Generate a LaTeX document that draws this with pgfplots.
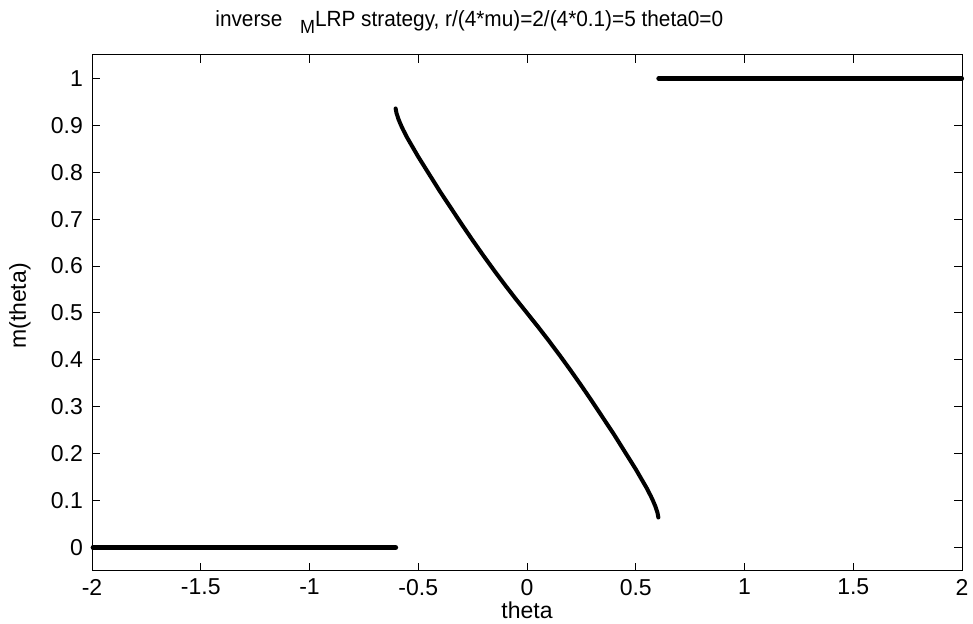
\documentclass[border=0pt]{standalone}
\usepackage{fontspec}
\setmainfont{Liberation Sans}
\usepackage{pgfplots}
\pgfplotsset{compat=1.18}
\begin{document}
\begin{tikzpicture}
\useasboundingbox (-46pt,-26.5pt) rectangle (440.5pt,285.5pt);
\begin{axis}[
  scale only axis, width=435pt, height=258pt,
  xmin=-2, xmax=2, ymin=-0.05, ymax=1.05,
  xtick={-2,-1.5,...,2}, ytick={0,0.1,...,1.0},
  tick align=inside, major tick length=4pt,
  axis line style={line width=0.5pt},
  every tick/.style={black, line width=0.5pt},
  /pgf/number format/assume math mode=true,
  /pgf/number format/fixed,
  ticklabel style={font=\fontsize{11.5}{13}\selectfont},
  yticklabel style={xshift=-1pt},
  xticklabel style={yshift=-0.5pt},
  clip=false,
]
\addplot[black, line width=2.5pt, line cap=round] coordinates {(-1.995,0) (-0.604,0)};
\addplot[black, line width=2.5pt, line cap=round] coordinates {(0.606,1) (1.998,1)};
\addplot[black, line width=2pt, line cap=round, line join=round] coordinates {
(-0.604,0.936) (-0.600,0.926) (-0.590,0.912) (-0.580,0.901) (-0.570,0.891)
(-0.550,0.873) (-0.530,0.857) (-0.500,0.833) (-0.450,0.796) (-0.400,0.759)
(-0.350,0.724) (-0.300,0.689) (-0.250,0.655) (-0.200,0.622) (-0.150,0.590)
(-0.100,0.559) (-0.050,0.529) (0.000,0.500) (0.050,0.471) (0.100,0.441)
(0.150,0.410) (0.200,0.378) (0.250,0.345) (0.300,0.311) (0.350,0.276)
(0.400,0.241) (0.450,0.204) (0.500,0.167) (0.530,0.143) (0.550,0.127)
(0.570,0.109) (0.580,0.099) (0.590,0.088) (0.600,0.074) (0.604,0.064)
};
\end{axis}
\node[font=\fontsize{11.5}{13}\selectfont, anchor=center] at ([yshift=-19.5pt]current axis.south) {theta};
\node[font=\fontsize{11.5}{13}\selectfont, anchor=center, rotate=90] at ([xshift=-36pt,yshift=3.5pt]current axis.west) {m(theta)};
\node[font=\fontsize{11}{13}\selectfont, anchor=west, inner sep=0pt] at (61.5pt,274.5pt)
  {\scalebox{0.945}[1]{inverse\hspace{0.85em}\raisebox{-0.55ex}{\fontsize{9.5}{10}\selectfont M}LRP strategy, r/(4*mu)=2/(4*0.1)=5 theta0=0}};
\end{tikzpicture}
\end{document}
